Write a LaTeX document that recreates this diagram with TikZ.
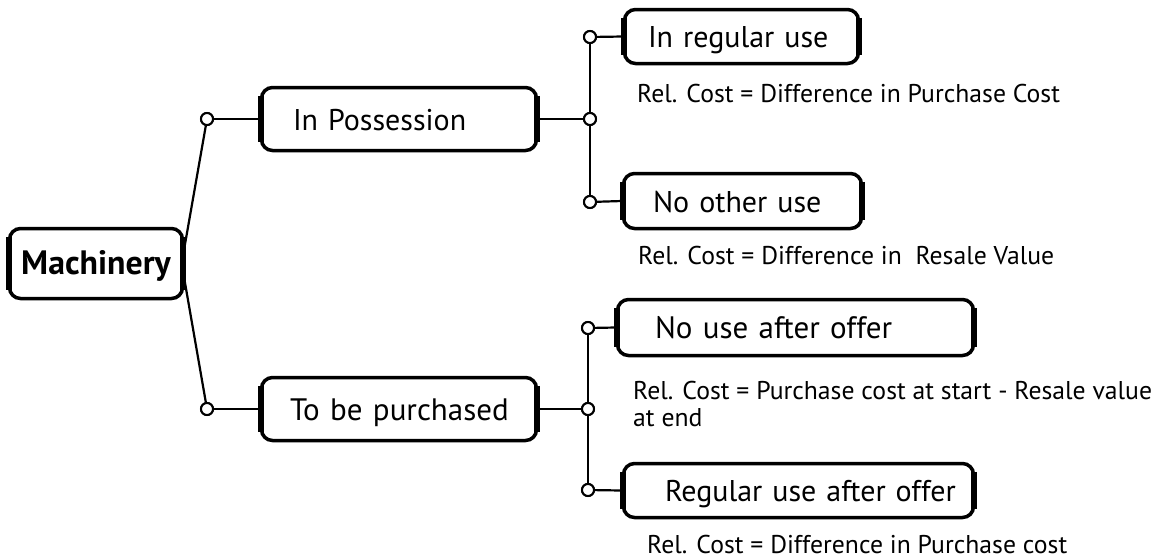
\documentclass[tikz,border=0pt]{standalone}
\usepackage{fontspec}
\setmainfont{PT Sans}
\newcommand\boxsides[1]{%
  \draw[line width=6pt] ([shift={(1.6pt,-10pt)}]#1.north west) -- ([shift={(1.6pt,10pt)}]#1.south west);
  \draw[line width=6pt] ([shift={(-1.6pt,-10pt)}]#1.north east) -- ([shift={(-1.6pt,10pt)}]#1.south east);}
\begin{document}
\begin{tikzpicture}[x=1pt,y=-1pt,
  box/.style={draw, line width=3.5pt, rounded corners=11pt, fill=white,
    inner xsep=0pt, inner ysep=0pt, align=left, text height=22pt, text depth=0pt,
    font=\fontsize{30}{34}\selectfont},
  bigbox/.style={box, font=\fontsize{31}{34}\selectfont},
  dot/.style={circle, draw, line width=2pt, fill=white, inner sep=0pt, minimum size=12pt},
  link/.style={line width=2.2pt},
  note/.style={anchor=base west, inner sep=0pt, align=left,
    font=\fontsize{25.7}{27}\selectfont}]
\useasboundingbox (0,0) rectangle (1164,558);

% boxes
\node[box, minimum width=173pt, minimum height=70pt, text width=173pt, align=center,
  font=\fontsize{33.8}{36}\bfseries] (mach) at (96,263.5) {Machinery};
\node[box, minimum width=275pt, minimum height=63pt, text width=275pt] (poss) at (399,119) {\hspace*{31.5pt}In Possession};
\node[bigbox, minimum width=275pt, minimum height=63pt, text width=275pt] (purch) at (399,409) {\hspace*{28.5pt}To be purchased};
\node[box, minimum width=234pt, minimum height=54pt, text width=234pt] (reg) at (741.5,36.5) {\hspace*{23.5pt}In regular use};
\node[box, minimum width=238pt, minimum height=55pt, text width=238pt] (noother) at (742.5,201) {\hspace*{29.5pt}No other use};
\node[bigbox, minimum width=356pt, minimum height=56pt, text width=356pt] (nouse) at (795.5,327.5) {\hspace*{37.5pt}No use after offer};
\node[box, minimum width=350pt, minimum height=54pt, text width=350pt] (reguse) at (798.5,490.5) {\hspace*{41.5pt}Regular use after offer};
\foreach \b in {mach,poss,purch,reg,noother,nouse,reguse} {\boxsides{\b}}

% junction points
\coordinate (m1) at ([yshift=15pt]mach.east);
\coordinate (m2) at ([yshift=-15pt]mach.east);
\node[dot] (c1) at (207,119) {};
\node[dot] (c2) at (207,409) {};
\node[dot] (c3) at (590,119) {};
\node[dot] (c4) at (588,409) {};
\node[dot] (c5) at (590,37) {};
\node[dot] (c6) at (590,202) {};
\node[dot] (c7) at (588,328) {};
\node[dot] (c8) at (588,490) {};

% connectors
\draw[link] (c1) -- (m1);
\draw[link] (m2) -- (c2);
\draw[link] (c1) -- (poss.west);
\draw[link] (c2) -- (purch.west);
\draw[link] (poss.east) -- (c3);
\draw[link] (purch.east) -- (c4);
\draw[link] (c5) -- (c3) -- (c6);
\draw[link] (c7) -- (c4) -- (c8);
\draw[link] (c5) -- (reg.west);
\draw[link] (c6) -- (noother.west);
\draw[link] (c7) -- (nouse.west);
\draw[link] (c8) -- (reguse.west);
\foreach \c in {c1,c2,c3,c4,c5,c6,c7,c8} {\node[dot] at (\c) {};}

% cost notes
\node[note] (n1) at (637,102) {Rel. Cost = Difference in Purchase Cost};
\node[note] (n2) at (638,264) {Rel. Cost = Difference in \ Resale Value};
\node[note] (n3) at (633,426) {Rel. Cost = Purchase cost at start - Resale value\\at end};
\node[note] (n4) at (647,553) {Rel. Cost = Difference in Purchase cost};
\end{tikzpicture}
\end{document}
